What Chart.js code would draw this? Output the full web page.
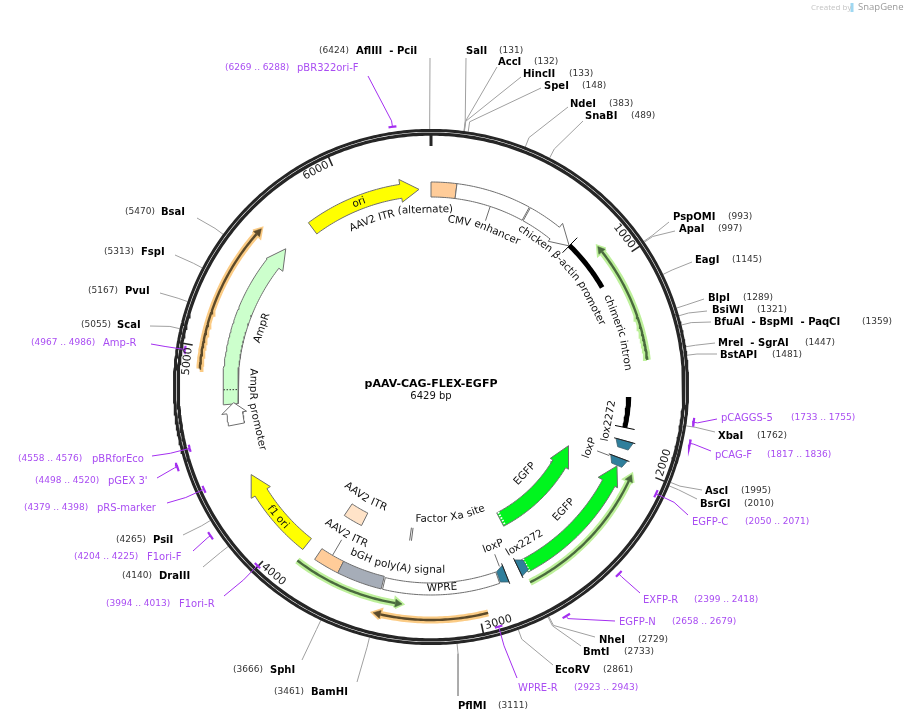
<!DOCTYPE html>
<html><head><meta charset="utf-8"><title>pAAV-CAG-FLEX-EGFP</title>
<script src="https://cdn.jsdelivr.net/npm/chart.js@4"></script>
<style>html,body{margin:0;padding:0;background:#fff}canvas{display:block}</style>
</head><body><canvas id="c" width="908" height="723"></canvas>
<script>
// ---------- values ----------
const plasmidName = 'pAAV-CAG-FLEX-EGFP';
const plasmidLength = 6429;
const tickValues = [1000, 2000, 3000, 4000, 5000, 6000];

const siteNames = ['AflIII  - PciI','SalI','AccI','HincII','SpeI','NdeI','SnaBI','PspOMI','ApaI','EagI','BlpI','BsiWI','BfuAI  - BspMI  - PaqCI','MreI  - SgrAI','BstAPI','XbaI','AscI','BsrGI','NheI','BmtI','EcoRV','PflMI','BamHI','SphI','DraIII','PsiI','ScaI','PvuI','FspI','BsaI'];
const siteBp = [6424,131,132,133,148,383,489,993,997,1145,1289,1321,1359,1447,1481,1762,1995,2010,2729,2733,2861,3111,3461,3666,4140,4265,5055,5167,5313,5470];

const primerNames = ['pBR322ori-F','pCAGGS-5','pCAG-F','EGFP-C','EXFP-R','EGFP-N','WPRE-R','F1ori-R','F1ori-F','pRS-marker',"pGEX 3'",'pBRforEco','Amp-R'];
const primerStart = [6269,1733,1817,2050,2399,2658,2923,3994,4204,4379,4498,4558,4967];
const primerEnd   = [6288,1755,1836,2071,2418,2679,2943,4013,4225,4398,4520,4576,4986];

// solid boxes on the tracks
const boxNames = ['AAV2 ITR (alternate)','CMV enhancer','AAV2 ITR','bGH poly(A) signal','WPRE','AAV2 ITR'];
const boxStart = [0,130,3690,3462,2870,3690];
const boxEnd   = [130,512,3822,3690,3455,3822];
// arrows: tail bp, tip bp
const arrowNames = ['chicken β-actin promoter','ori','AmpR','AmpR promoter','f1 ori','EGFP','EGFP'];
const arrowTail  = [518,5773,4734,4627,3898,2722,2720];
const arrowTip   = [793,6367,5600,4741,4358,2020,2018];
// chimeric intron pieces
const intronStart = [793,1659];
const intronEnd   = [1068,1818];
// loxP / lox2272 sites
const loxNames = ['lox2272','loxP','loxP','lox2272'];
const loxStart = [1884,1975,2825,2720];
const loxEnd   = [1918,2009,2859,2755];
// translated / transcribed thin arrows
const thinTail = [1480,2734,3886,2961,4903];
const thinTip  = [891,2029,3350,3471,5590];
const factorXa = [3344,3356];

// ---------- layout and style (positions of labels, leaders, radii) ----------
const CX = 431, CY = 387;
const siteNameX = [356,466,498,523,544,570,585,673,679,695,708,712,714,718,720,718,705,700,599,583,555,458,311,270,159,153,117,125,141,161];
const siteNumX  = [319,499,534,569,582,609,631,728,718,732,743,757,862,805,772,757,741,744,638,624,603,498,274,233,122,116,81,88,104,125];
const siteY     = [51,51,62,74,86,104,116,217,229,260,298,310,322,343,355,436,491,504,640,652,670,706,692,670,576,540,325,291,252,212];
const siteLeadX = [430,466,497,521,541,568,583,669,675,692,704,707,711,715,717,715,702,697,595,581,553,458,357,302,203,183,150,160,175,197];
const siteLeadY = [58,58,67,77,88,107,121,222,231,262,299,311,322,343,354,432,490,499,637,646,665,696,682,660,567,535,326,293,255,218];

const primerNameX  = [297,721,715,692,643,619,518,179,147,97,108,92,103];
const primerRangeX = [225,791,767,745,694,672,574,106,74,24,35,18,31];
const primerY      = [68,418,455,522,600,622,688,604,557,508,481,459,343];
const primerLeadX  = [368,717,711,688,640,615,517,224,193,167,157,152,151];
const primerLeadY  = [76,419,451,515,593,621,678,596,551,503,478,456,344];
const primerR      = [263,265,265,249,265,266,249,249,266,249,266,249,249];

const boxR     = [[190,205],[190,205],[195,208],[195,208],[196,208],[141,155]];
const boxFill  = ['#ffcc99','#ffffff','#ffcc99','#a6adb8','#ffffff','#ffe3c8'];
const arrowR   = [[190,205,187,210],[191,205,187,210],[193,208,188,209],[190,206,186,211],[193,207,189,211],[142,157,139,160],[195,209,190,212]];
const arrowFill= ['#ffffff','#ffff00','#ccffcc','#ffffff','#ffff00','#00f51e','#00f51e'];
const arrowHead= [100,95,100,53,104,139,96];
const thinR    = [218,219,219,233,232];
const thinLight= ['#bdf09a','#bdf09a','#bdf09a','#fbcb84','#fbcb84'];
const thinDark = ['#4a6a3e','#4a6a3e','#4a6a3e','#5c4a2a','#5c4a2a'];
const loxWideAtStart = [true,true,true,false];

// bp, radius, text, orientation of the labels that follow the circle
const arcLabels = [
 ['ori',6048,198,'out'],['AAV2 ITR (alternate)',6250,177,'out'],['CMV enhancer',332,168,'out'],
 ['chicken β-actin promoter',884,181,'out'],['chimeric intron',1318,197,'out'],['AmpR',5165,179,'out'],
 ['Factor Xa site',3061,132,'in'],['bGH poly(A) signal',3407,183,'in'],['WPRE',3159,201,'in'],
 ['AmpR promoter',4690,178,'in'],['f1 ori',4101,201,'in'],['AAV2 ITR',3750,170,'in'],['AAV2 ITR',3763,129,'in'],
 ['EGFP',2371,128,'in'],['EGFP',2371,181,'in'],['lox2272',2662,182,'in'],['loxP',2834,171,'in'],
 ['lox2272',1800,181,'in'],['loxP',1983,170,'in']
];
const featureLeaders = [[324,190,175],[1983,191,178],[2842,192,179],[3756,195,177]];

// ---------- geometry helpers ----------
const rad = bp => bp / plasmidLength * 2 * Math.PI;
const polar = (bp, r) => ({x: CX + r * Math.sin(rad(bp)), y: CY - r * Math.cos(rad(bp))});
function arc(a, b, r) {
  const n = Math.max(2, Math.ceil(Math.abs(b - a) / 12)), pts = [];
  for (let i = 0; i <= n; i++) pts.push(polar(a + (b - a) * i / n, r));
  return pts;
}
const DARK = '#262626', GREY = '#a0a0a0', OUT = '#6e6e6e', PURPLE = '#a42ff0', PTEXT = '#a94df2';
const sets = [];
function stroke(data, color, width, extra) {
  sets.push(Object.assign({type:'scatter', data, showLine:true, fill:false, pointRadius:0, borderColor:color, borderWidth:width, tension:0, clip:false, borderCapStyle:'butt', borderJoinStyle:'miter'}, extra || {}));
}
function shape(data, fillColor, lineColor, width) {
  const d = data.concat([data[0]]);
  stroke(d, lineColor, width, {fill:'shape', backgroundColor:fillColor});
}
function arrow(tail, tip, r, head, fillColor) {
  const dir = Math.sign(tip - tail), base = tip - dir * head, mid = (r[0] + r[1]) / 2;
  shape([...arc(tail, base, r[1]), polar(base, r[3]), polar(tip, mid), polar(base, r[2]), ...arc(base, tail, r[0])], fillColor, OUT, 1);
}

// ---------- build marks ----------
// leaders first so the ring sits on top
siteBp.forEach((bp, i) => stroke([polar(bp, 258), polar(bp, 268), {x: siteLeadX[i], y: siteLeadY[i]}], GREY, 1));
stroke(arc(0, plasmidLength, 256.6), DARK, 3);
stroke(arc(0, plasmidLength, 252.9), DARK, 3.3);
stroke([polar(0, 252), polar(0, 241)], DARK, 3);
tickValues.forEach(v => stroke([polar(v, 252), polar(v, 242)], DARK, 1.6));

primerNames.forEach((n, i) => {
  const mid = (primerStart[i] + primerEnd[i]) / 2;
  stroke([polar(mid, primerR[i]), polar(mid, 269), {x: primerLeadX[i], y: primerLeadY[i]}], PURPLE, 1);
  stroke(arc(primerStart[i] - 6, primerEnd[i] + 6, primerR[i]), PURPLE, 2.2);
});

featureLeaders.forEach(l => stroke([polar(l[0], l[1]), polar(l[0], l[2])], OUT, 1));

boxNames.forEach((n, i) => {
  const r = boxR[i];
  shape([...arc(boxStart[i], boxEnd[i], r[1]), ...arc(boxEnd[i], boxStart[i], r[0])], boxFill[i], OUT, 1);
});
arrowNames.forEach((n, i) => arrow(arrowTail[i], arrowTip[i], arrowR[i], arrowHead[i], arrowFill[i]));

// dotted marks on AmpR and the EGFP tails
stroke([polar(4808, 194), polar(4808, 208)], '#333', 1, {borderDash:[1.5,1.5]});
[[2710,142,157],[2712,195,209]].forEach(m => stroke([polar(m[0], m[1]), polar(m[0], m[2])], '#ffffff', 2, {borderDash:[1.5,1.5]}));

// chimeric intron
intronStart.forEach((s, i) => stroke(arc(s, intronEnd[i], 198), '#000', 5));
stroke([polar(793, 188), polar(793, 209)], '#000', 1);
stroke([polar(1818, 188), polar(1818, 208)], '#000', 1);

// loxP / lox2272
loxNames.forEach((n, i) => {
  const w = loxWideAtStart[i] ? loxStart[i] : loxEnd[i], t = loxWideAtStart[i] ? loxEnd[i] : loxStart[i];
  const wider = t + Math.sign(t - w) * 6;
  shape([polar(w, 192), polar(w, 210), polar(wider, 207), polar(wider, 196)], '#2f7f9c', '#3d5f6c', 0.8);
  stroke([polar(w, 190), polar(w, 212)], '#222', 1);
});

// Factor Xa double line
factorXa.forEach(b => stroke([polar(b, 142), polar(b, 155)], '#666', 1));

// thin highlighted arrows
thinTail.forEach((t, i) => {
  const tip = thinTip[i], dir = Math.sign(tip - t), r = thinR[i], base = tip - dir * 32;
  stroke(arc(t, base, r), thinLight[i], 7);
  shape([polar(base, r + 4.5), polar(tip, r), polar(base, r - 4.5)], thinLight[i], thinLight[i], 3.5);
  stroke(arc(t, base, r), thinDark[i], 2.4);
  shape([polar(base, r + 4), polar(tip, r), polar(base, r - 4)], thinDark[i], thinDark[i], 0.5);
});

// SnapGene logo glyph
stroke([{x:852,y:3},{x:852,y:12}], '#9fd8f2', 3);

sets.reverse(); // chart.js paints dataset 0 last

// ---------- text through the same scales ----------
const textPlugin = {
  id: 'mapText',
  afterDatasetsDraw(chart) {
    const {ctx, scales:{x: sx, y: sy}} = chart;
    const put = (t, x, y, font, color, align, rot) => {
      ctx.save();
      ctx.translate(sx.getPixelForValue(x), sy.getPixelForValue(y));
      if (rot) ctx.rotate(rot);
      ctx.font = font; ctx.fillStyle = color; ctx.textAlign = align || 'left'; ctx.textBaseline = 'middle';
      ctx.fillText(t, 0, 0);
      ctx.restore();
    };
    const F = '"DejaVu Sans"';
    const BOLD = 'bold 10px ' + F, NUM = '9px ' + F, REG = '10px ' + F, ARC = '10.4px ' + F;
    put(plasmidName, CX, 384, 'bold 11px ' + F, '#000', 'center');
    put(plasmidLength + ' bp', CX, 396, REG, '#111', 'center');
    siteNames.forEach((n, i) => {
      put(n, siteNameX[i], siteY[i], BOLD, '#000');
      put('(' + siteBp[i] + ')', siteNumX[i], siteY[i], NUM, '#333');
    });
    primerNames.forEach((n, i) => {
      put(n, primerNameX[i], primerY[i], REG, PTEXT);
      put('(' + primerStart[i] + ' .. ' + primerEnd[i] + ')', primerRangeX[i], primerY[i], NUM, PTEXT);
    });
    // tick labels sit on the low-bp side of their tick
    ctx.font = '11px ' + F;
    tickValues.forEach(v => {
      const w = ctx.measureText(String(v)).width, th = rad(v), top = Math.cos(th) > 0;
      const bp = v - (w / 2 + 3) / 245 / (2 * Math.PI) * plasmidLength, p = polar(bp, 245);
      put(String(v), p.x, p.y, '11px ' + F, '#222', 'center', top ? rad(bp) : rad(bp) - Math.PI);
    });
    // labels following the circle, word by word
    arcLabels.forEach(([text, bp, r, mode]) => {
      ctx.font = ARC;
      const W = ctx.measureText(text).width, toBp = plasmidLength / (2 * Math.PI);
      let pos = 0;
      text.split(' ').forEach(word => {
        ctx.font = ARC;
        const ww = ctx.measureText(word).width, sp = ctx.measureText(' ').width;
        const s = pos + ww / 2 - W / 2;
        const b = bp + (mode === 'out' ? 1 : -1) * s / r * toBp, p = polar(b, r);
        put(word, p.x, p.y, ARC, '#111', 'center', mode === 'out' ? rad(b) : rad(b) - Math.PI);
        pos += ww + sp;
      });
    });
    put('Created by', 811, 7.5, '8px "Open Sans"', '#c4c4c4');
    put('SnapGene', 858, 7.5, '9.5px "Open Sans"', '#9a9a9a');
  }
};

new Chart(document.getElementById('c'), {
  type: 'scatter',
  data: {datasets: sets},
  plugins: [textPlugin],
  options: {
    responsive: false, animation: false, maintainAspectRatio: false,
    layout: {padding: 0},
    events: [],
    plugins: {legend: {display:false}, tooltip: {enabled:false}, title: {display:false}},
    scales: {
      x: {type:'linear', min:0, max:908, display:false},
      y: {type:'linear', min:0, max:723, reverse:true, display:false}
    }
  }
});
</script></body></html>
